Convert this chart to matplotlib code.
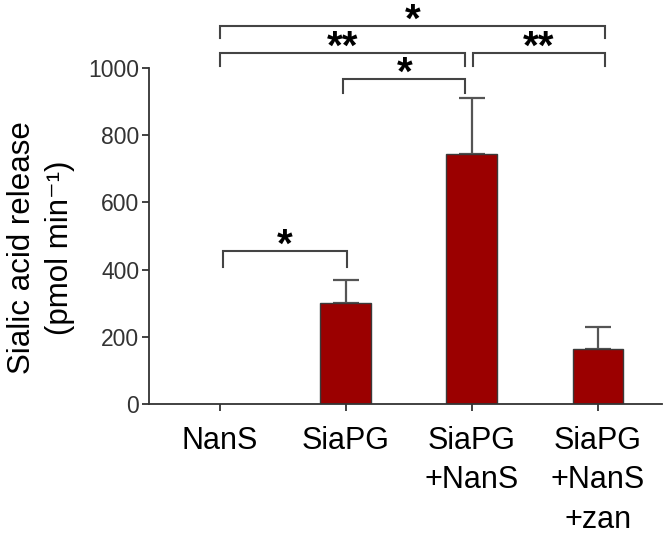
import matplotlib
matplotlib.use("Agg")
import matplotlib.pyplot as plt

categories = ["NanS", "SiaPG", "SiaPG\n+NanS", "SiaPG\n+NanS\n+zan"]
values = [0, 300, 745, 163]
errors = [0, 70, 165, 66]
yticks = [0, 200, 400, 600, 800, 1000]

# significance brackets: (x1, x2, y, leg bottom, label)
brackets = [
    (0.03, 1.01, 455, 407, "*"),
    (0.98, 1.95, 966, 927, "*"),
    (0.0, 1.95, 1046, 1007, "**"),
    (2.01, 3.06, 1046, 1007, "**"),
    (0.0, 3.06, 1126, 1088, "*"),
]

plt.rcParams['font.family'] = ['Liberation Sans', 'DejaVu Sans']

fig = plt.figure(figsize=(6.69, 5.34), dpi=100)
ax = fig.add_axes([149/669, 1-404/534, (662-149)/669, (404-68)/534])

x = list(range(len(categories)))
edges = ["#3a3a3a" if v > 0 else "none" for v in values]
ax.bar(x, values, width=0.4, color="#9b0000", edgecolor=edges, linewidth=1.0, zorder=2)
ex = [xi for xi, e in zip(x, errors) if e > 0]
ev = [v for v, e in zip(values, errors) if e > 0]
ee = [e for e in errors if e > 0]
ax.errorbar(ex, ev, yerr=[[0]*len(ee), ee], fmt="none", ecolor="#555555",
            elinewidth=1.6, capsize=9.5, capthick=1.6, zorder=1)

ax.set_xlim(-0.56, 3.51)
ax.set_ylim(0, 1000)
ax.set_yticks(yticks)
ax.set_yticklabels([str(v) for v in yticks], fontsize=16.5, color="#333333")
ax.set_xticks(x)
ax.set_xticklabels(categories, fontsize=22, color="black", linespacing=1.4, va="top")
for s in ["top", "right"]:
    ax.spines[s].set_visible(False)
for s in ["left", "bottom"]:
    ax.spines[s].set_color("#333333")
    ax.spines[s].set_linewidth(1.3)
ax.tick_params(axis="both", direction="out", length=5, width=1.3, color="#333333")
ax.tick_params(axis="y", pad=2)
ax.tick_params(axis="x", pad=11)

fig.text(41/669, 1-248/534, "Sialic acid release\n(pmol min\u207b\u00b9)", fontsize=22.5,
         rotation=90, ha="center", va="center", linespacing=1.35, multialignment="center")

for x1, x2, y, yb, lab in brackets:
    ax.plot([x1, x1, x2, x2], [yb, y, y, yb], color="#444444", linewidth=1.5,
            clip_on=False, solid_joinstyle="miter")
    ax.text((x1+x2)/2, y + 72, lab, ha="center", va="top", fontsize=29,
            fontweight="bold", color="black", clip_on=False)

fig.savefig("out.png", dpi=100)
